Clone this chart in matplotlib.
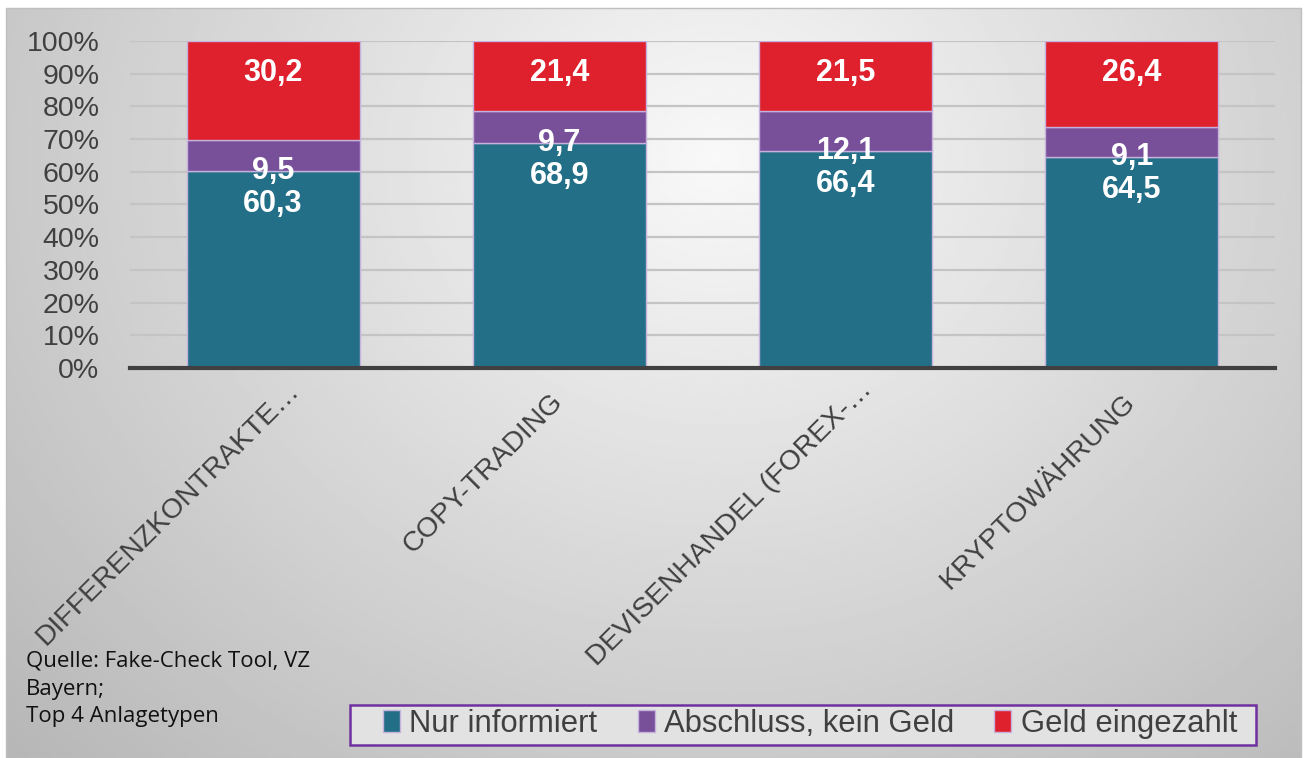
import numpy as np
import matplotlib
matplotlib.use("Agg")
import matplotlib.pyplot as plt
import matplotlib.transforms as mtransforms
from matplotlib.patches import Patch, Rectangle

categories = ["DIFFERENZKONTRAKTE…", "COPY-TRADING", "DEVISENHANDEL (FOREX-…", "KRYPTOWÄHRUNG"]
nur_informiert = [60.3, 68.9, 66.4, 64.5]
abschluss_kein_geld = [9.5, 9.7, 12.1, 9.1]
geld_eingezahlt = [30.2, 21.4, 21.5, 26.4]
series_names = ["Nur informiert", "Abschluss, kein Geld", "Geld eingezahlt"]
colors = ["#236F87", "#784F99", "#DF202D"]
y_ticks = [0, 10, 20, 30, 40, 50, 60, 70, 80, 90, 100]
source_lines = ["Quelle: Fake-Check Tool, VZ", "Bayern;", "Top 4 Anlagetypen"]

plt.rcParams['font.family'] = ['Liberation Sans', 'DejaVu Sans']

W, H = 1304, 758
fig = plt.figure(figsize=(W / 100, H / 100), dpi=100)
fig.patch.set_facecolor("white")

# background gradient panel
bg = fig.add_axes([6 / W, 0, 1295 / W, 750 / H], zorder=-10)
u = np.linspace(0, 1, 400)
v = np.linspace(0, 1, 300)
U, V = np.meshgrid(u, v)
d = np.sqrt(((U - 0.55) / 0.5) ** 2 + ((V - 0.2) / 0.75) ** 2)
val = np.clip(0.975 - 0.17 * d, 0, 1)
bg.imshow(val, cmap="gray", vmin=0, vmax=1, aspect="auto", extent=[0, 1, 0, 1], origin="upper")
bg.set_axis_off()
fig.add_artist(Rectangle((6 / W, 0), 1295 / W, 750 / H, transform=fig.transFigure,
                         fill=False, edgecolor="#bfbfbf", linewidth=1, zorder=-5))

ax = fig.add_axes([130 / W, 390 / H, 1145 / W, 327 / H])
ax.set_facecolor("none")
x = np.arange(len(categories))
width = 0.605
edge = "#c6b2dc"
ax.bar(x, nur_informiert, width, color=colors[0], edgecolor=edge, linewidth=1, zorder=3)
ax.bar(x, abschluss_kein_geld, width, bottom=nur_informiert, color=colors[1],
       edgecolor=edge, linewidth=1, zorder=3)
bottom3 = [a + b for a, b in zip(nur_informiert, abschluss_kein_geld)]
ax.bar(x, geld_eingezahlt, width, bottom=bottom3, color=colors[2],
       edgecolor=edge, linewidth=1, zorder=3)

def fmt(val):
    return f"{val:.1f}".replace(".", ",")

lab_kw = dict(color="white", fontsize=22, fontweight="bold", ha="center", va="center", zorder=5)
for i in range(len(categories)):
    t1 = nur_informiert[i]
    t3 = bottom3[i] + geld_eingezahlt[i]
    ax.annotate(fmt(nur_informiert[i]), (x[i], t1), xytext=(0, -24), textcoords="offset points", **lab_kw)
    ax.annotate(fmt(abschluss_kein_geld[i]), (x[i], t1), xytext=(0, 0), textcoords="offset points", **lab_kw)
    ax.annotate(fmt(geld_eingezahlt[i]), (x[i], t3), xytext=(0, -23), textcoords="offset points", **lab_kw)

ax.set_xlim(-0.5, 3.5)
ax.set_ylim(0, 100)
ax.set_yticks(y_ticks)
ax.set_yticklabels([f"{t}%" for t in y_ticks], fontsize=20.5, color="#404040")
ax.set_xticks(x)
ax.set_xticklabels([""] * len(categories))
# category labels (truncated ones sit a little further up-right in the original)
for i, cat in enumerate(categories):
    dx, dy = (0.22, -0.18) if cat.endswith("…") else (0.0, -0.30)
    tr = ax.get_xaxis_transform() + mtransforms.ScaledTranslation(dx, dy, fig.dpi_scale_trans)
    ax.text(x[i], 0, cat, transform=tr, rotation=45, ha="right", va="center",
            rotation_mode="anchor", fontsize=20.3, color="#404040")
ax.tick_params(axis="both", length=0)
ax.tick_params(axis="y", pad=22)
ax.grid(axis="y", color="#c4c4c4", linewidth=1.6, zorder=0)
for s in ["top", "left", "right"]:
    ax.spines[s].set_visible(False)
ax.spines["bottom"].set_color("#404040")
ax.spines["bottom"].set_linewidth(3)
ax.spines["bottom"].set_zorder(4)

# legend
fig.add_artist(Rectangle((350 / W, 1 - 745 / H), 906 / W, 40 / H, transform=fig.transFigure,
                         facecolor="#e2e2e2", edgecolor="#7030A0", linewidth=1.8, zorder=1))
handles = [Patch(facecolor=c, edgecolor=edge, linewidth=1) for c in colors]
leg = fig.legend(handles, series_names, loc="center", bbox_to_anchor=(810 / W, 1 - 724 / H),
                 ncol=3, fontsize=22.3, frameon=False, handlelength=0.55,
                 handleheight=0.7, handletextpad=0.3, columnspacing=1.3, borderpad=0.0,
                 labelcolor="#404040")
leg.set_zorder(2)

ys = [667, 695, 722]
for line, yy in zip(source_lines, ys):
    fig.text(26 / W, 1 - yy / H, line, fontsize=16, color="#111111", ha="left", va="baseline",
             family=["Open Sans", "DejaVu Sans"])

fig.savefig("out.png", dpi=100)
